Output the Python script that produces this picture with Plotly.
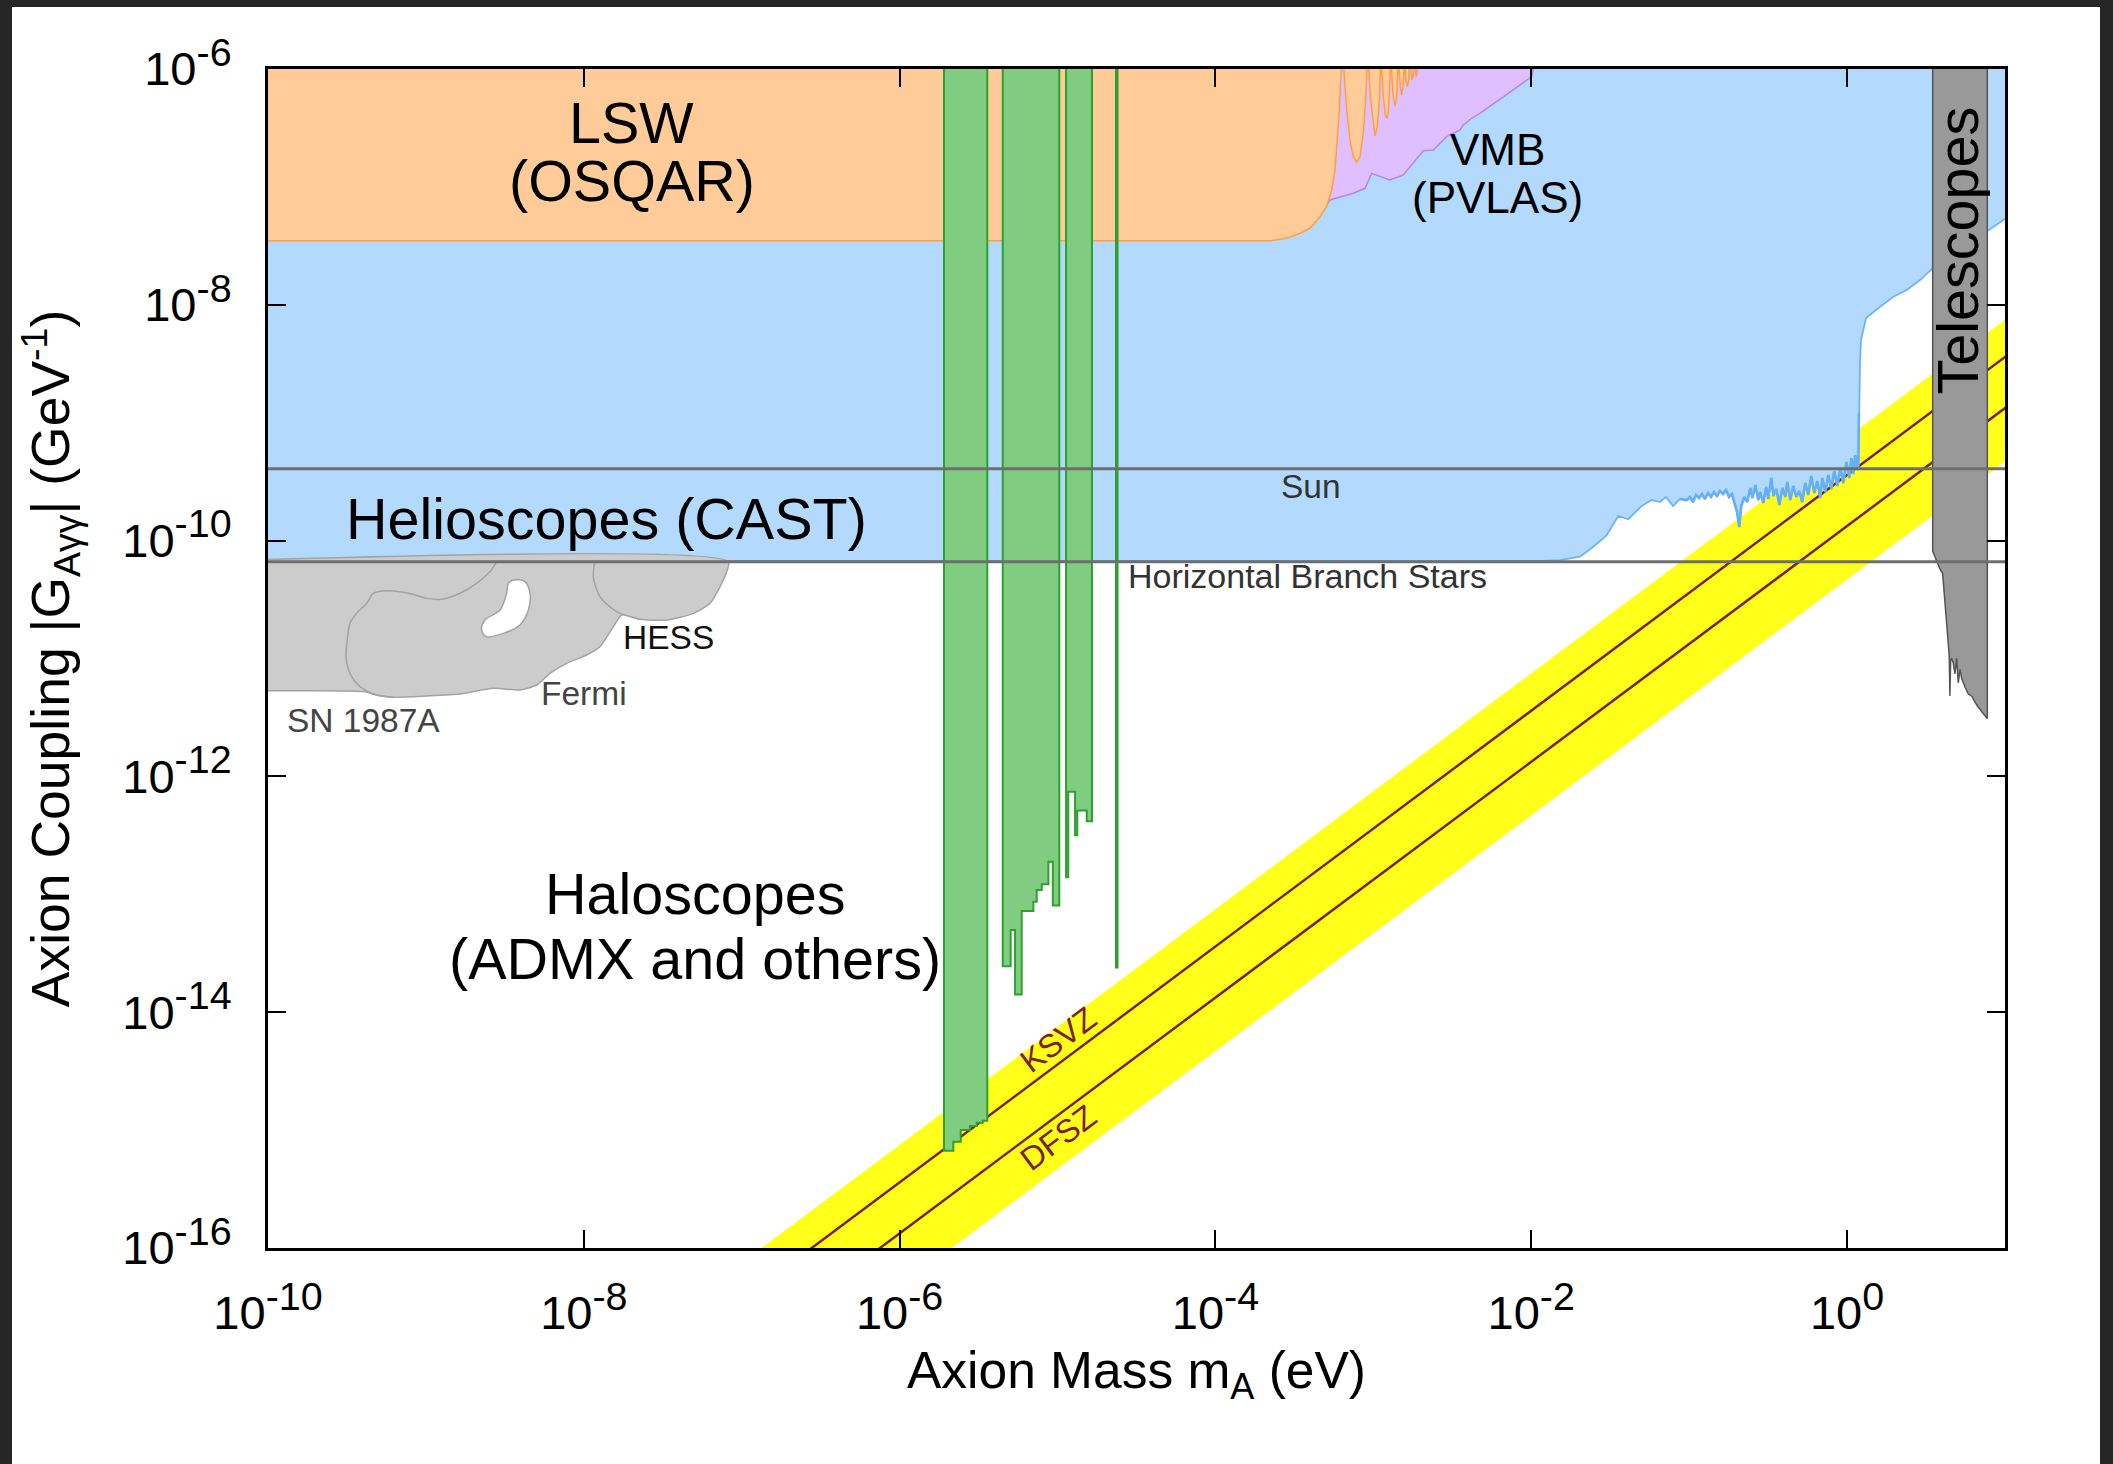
import numpy as np
import plotly.graph_objects as go

FONT = "Liberation Sans, Arial, Helvetica, sans-serif"

# ---------------- data (log10 of axion mass [eV], log10 of coupling [GeV^-1]) -------------
x_tick_exp = [-10, -8, -6, -4, -2, 0]
y_tick_exp = [-16, -14, -12, -10, -8, -6]

# Horizontal Branch Stars and Sun limits
hb_g_log = -10.18
sun_g_log = -9.39

# QCD axion band and model lines
band_m_log = [-7.374, 1.05, 1.05, -6.17]
band_g_log = [-16.5, -8.076, -9.28, -16.5]
ksvz_m_log = [-7.057, 1.05]
ksvz_g_log = [-16.5, -8.393]
dfsz_m_log = [-6.624, 1.05]
dfsz_g_log = [-16.5, -8.826]

# Helioscopes (CAST) lower boundary, left to right
cast_m_log = [-10.5, -1.926, -1.818, -1.691, -1.607, -1.522, -1.449, -1.386, -1.301, -1.238,
              -1.185, -1.147, -1.102, -1.058]
cast_g_log = [-10.173, -10.173, -10.165, -10.137, -10.052, -9.953, -9.791, -9.819, -9.707, -9.656,
              -9.673, -9.630, -9.707, -9.647]
# noisy part of the CAST limit
cast_noise_m_log = [-1.016, -0.995, -0.976, -0.957, -0.938, -0.919, -0.900, -0.881, -0.862, -0.843,
                    -0.824, -0.805, -0.786, -0.767, -0.748, -0.729, -0.710, -0.697, -0.683, -0.670,
                    -0.651, -0.632, -0.613, -0.600, -0.581, -0.562, -0.550, -0.531, -0.512, -0.499,
                    -0.480, -0.467, -0.448, -0.429, -0.410, -0.391, -0.379, -0.360, -0.341, -0.322,
                    -0.303, -0.284, -0.265, -0.246, -0.227, -0.208, -0.189, -0.170, -0.157, -0.138,
                    -0.119, -0.100, -0.081, -0.062, -0.043, -0.024, -0.005, 0.014, 0.027, 0.039,
                    0.052, 0.065, 0.071]
cast_noise_g_log = [-9.656, -9.630, -9.673, -9.613, -9.639, -9.605, -9.647, -9.596, -9.630, -9.588,
                    -9.622, -9.579, -9.605, -9.571, -9.630, -9.605, -9.698, -9.757, -9.885, -9.707,
                    -9.630, -9.673, -9.554, -9.639, -9.528, -9.656, -9.588, -9.681, -9.545, -9.647,
                    -9.469, -9.622, -9.562, -9.698, -9.554, -9.630, -9.503, -9.656, -9.537, -9.630,
                    -9.579, -9.673, -9.512, -9.613, -9.452, -9.596, -9.495, -9.639, -9.469, -9.588,
                    -9.444, -9.562, -9.410, -9.537, -9.384, -9.512, -9.334, -9.469, -9.300, -9.435,
                    -9.274, -9.401, -9.367]
cast_right_m_log = [0.075, 0.082, 0.088, 0.120, 0.209, 0.293, 0.378, 0.462, 0.546, 0.886, 1.0, 1.05]
cast_right_g_log = [-8.918, -8.494, -8.299, -8.112, -8.016, -7.931, -7.874, -7.790, -7.685, -7.374, -7.272, -7.24]

# LSW (OSQAR) lower boundary, left to right (with resonance dips)
lsw_m_log = [-10.5, -3.654, -3.578, -3.528, -3.465, -3.401, -3.338, -3.296, -3.264, -3.243,
             -3.229, -3.216, -3.207, -3.201,
             -3.190, -3.169, -3.148, -3.127, -3.106, -3.085, -3.064, -3.049, -3.039,
             -3.032, -3.017, -3.000, -2.990, -2.975, -2.962, -2.954,
             -2.950, -2.937, -2.924, -2.916, -2.907, -2.899, -2.893,
             -2.888, -2.874, -2.863, -2.852, -2.844,
             -2.840, -2.829, -2.821, -2.812, -2.806,
             -2.802, -2.793, -2.785, -2.776, -2.773,
             -2.768, -2.760, -2.754, -2.747, -2.743,
             -2.738, -2.732, -2.728, -2.724, -2.719, -2.715]
lsw_g_log = [-7.456, -7.456, -7.442, -7.425, -7.394, -7.351, -7.253, -7.168, -7.026, -6.857,
             -6.630, -6.348, -6.093, -5.95,
             -5.95, -6.348, -6.602, -6.744, -6.791, -6.744, -6.545, -6.263, -5.95,
             -5.95, -6.263, -6.489, -6.568, -6.489, -6.263, -5.95,
             -5.95, -6.235, -6.390, -6.418, -6.376, -6.206, -5.95,
             -5.95, -6.235, -6.314, -6.235, -5.95,
             -5.95, -6.150, -6.221, -6.150, -5.95,
             -5.95, -6.108, -6.150, -6.093, -5.95,
             -5.95, -6.065, -6.093, -6.051, -5.95,
             -5.95, -6.051, -6.065, -6.036, -5.95, -5.95]

# VMB (PVLAS) lower boundary
vmb_m_log = [-3.306, -3.275, -3.127, -3.053, -3.011, -2.895, -2.810, -2.684, -2.621, -2.536,
             -2.451, -2.431, -2.377, -2.325, -1.997, -1.987]
vmb_g_log = [-7.170, -7.111, -7.054, -7.012, -6.885, -6.941, -6.899, -6.693, -6.687, -6.574,
             -6.517, -6.475, -6.418, -6.376, -6.065, -6.0]

# Haloscopes (step boundaries)
admx_m_log = [-5.719, -5.719, -5.660, -5.613, -5.554, -5.512, -5.474, -5.445, -5.445]
admx_g_log = [-5.5, -15.175, -15.098, -14.999, -14.965, -14.937, -14.920, -14.920, -5.5]
halo2_m_log = [-5.347, -5.347, -5.297, -5.269, -5.227, -5.153, -5.132, -5.100, -5.058, -5.030, -4.989, -4.989]
halo2_g_log = [-5.5, -13.611, -13.303, -13.849, -13.142, -13.064, -12.963, -12.915, -12.724, -13.094, -13.094, -5.5]
halo3_m_log = [-4.946, -4.946, -4.932, -4.889, -4.875, -4.815, -4.782, -4.782]
halo3_g_log = [-5.5, -12.856, -12.130, -12.499, -12.290, -12.380, -12.380, -5.5]
halo4_m_log = [-4.625, -4.625]
halo4_g_log = [-5.5, -13.629]

# Astrophysical bounds (SN 1987A, Fermi, HESS)
astro_m_log = [-10.5, -7.085, -7.117, -7.201, -7.306, -7.476, -7.644, -7.760, -7.813, -7.898,
               -7.982, -8.109, -8.214, -8.299, -8.404, -8.573, -8.784, -8.995, -9.206, -9.312,
               -9.396, -10.5]
astro_g_log = [-10.18, -10.18, -10.334, -10.532, -10.617, -10.674, -10.668, -10.631, -10.730, -10.900,
               -10.970, -11.041, -11.126, -11.225, -11.267, -11.253, -11.301, -11.318, -11.329, -11.310,
               -11.281, -11.281]
fermi_edge_m_log = [-8.552, -8.594, -8.679, -8.784, -8.900, -8.995, -9.122, -9.249, -9.333, -9.375,
                    -9.439, -9.481, -9.498, -9.506, -9.481, -9.417, -9.312, -9.206]
fermi_edge_g_log = [-10.18, -10.263, -10.362, -10.447, -10.498, -10.490, -10.442, -10.425, -10.447, -10.532,
                    -10.617, -10.702, -10.843, -10.984, -11.126, -11.239, -11.310, -11.329]
hess_edge_m_log = [-7.930, -7.940, -7.898, -7.792, -7.644]
hess_edge_g_log = [-10.18, -10.306, -10.476, -10.603, -10.668]
hole_m_log = [-8.446, -8.373, -8.341, -8.351, -8.404, -8.510, -8.615, -8.647, -8.626, -8.531, -8.489, -8.478, -8.446]
hole_g_log = [-10.334, -10.348, -10.447, -10.589, -10.716, -10.787, -10.815, -10.758, -10.674, -10.589, -10.447, -10.362, -10.334]

# Telescopes
tel_m_log = [0.542, 0.542, 0.588, 0.605, 0.647, 0.651, 0.656, 0.662, 0.672, 0.683, 0.694, 0.704,
             0.715, 0.726, 0.747, 0.768, 0.789, 0.821, 0.853, 0.888, 0.888]
tel_g_log = [-5.5, -10.088, -10.241, -10.279, -10.979, -11.318, -11.013, -10.998, -11.036, -11.131, -10.998, -11.206,
             -11.093, -11.169, -11.244, -11.301, -11.320, -11.395, -11.452, -11.509, -5.5]


def p10(a):
    return np.power(10.0, np.asarray(a, dtype=float))


fig = go.Figure()


def poly(m, g, fill, color, width=1.5, shape="linear", smoothing=1.0):
    d = dict(color=color, width=width, shape=shape)
    if shape == "spline":
        d["smoothing"] = smoothing
    fig.add_trace(go.Scatter(
        x=p10(m), y=p10(g), mode="lines", fill="toself", fillcolor=fill, line=d,
        hoverinfo="skip", showlegend=False))


def line(m, g, color, width, shape="linear", smoothing=1.0):
    d = dict(color=color, width=width, shape=shape)
    if shape == "spline":
        d["smoothing"] = smoothing
    fig.add_trace(go.Scatter(x=p10(m), y=p10(g), mode="lines", line=d,
                             hoverinfo="skip", showlegend=False))


# QCD band
poly(band_m_log, band_g_log, "#FFFF1A", "rgba(0,0,0,0)", 0)
line(ksvz_m_log, ksvz_g_log, "#7B1F1F", 2.5)
line(dfsz_m_log, dfsz_g_log, "#7B1F1F", 2.5)

# Helioscopes
cast_all_m = cast_m_log + cast_noise_m_log + cast_right_m_log
cast_all_g = cast_g_log + cast_noise_g_log + cast_right_g_log
poly([-10.5] + cast_all_m + [1.05], [-5.5] + cast_all_g + [-5.5], "#B3D9FD", "#6DB3FA", 1.8)
line(cast_m_log[-1:] + cast_noise_m_log + cast_right_m_log[:1],
     cast_g_log[-1:] + cast_noise_g_log + cast_right_g_log[:1], "#64AEFA", 2.6)
# VMB
poly(vmb_m_log + [-1.987, -3.306], vmb_g_log + [-5.5, -5.5], "#DFBFFF", "#B983EE", 1.5)
# LSW
poly([-10.5] + lsw_m_log + [-2.715], [-5.5] + lsw_g_log + [-5.5], "#FFCC99", "#FF9F40", 1.5)

# Haloscopes
poly(admx_m_log, admx_g_log, "#80CC80", "#2EA02E", 2, "hv")
poly(halo2_m_log, halo2_g_log, "#80CC80", "#2EA02E", 2, "hv")
poly(halo3_m_log, halo3_g_log, "#80CC80", "#2EA02E", 2, "hv")
line(halo4_m_log, halo4_g_log, "#2EA02E", 3.5)

# Astrophysical bounds
poly(astro_m_log, astro_g_log, "#CCCCCC", "#A3A3A3", 1.5, "spline", 0.6)
line(fermi_edge_m_log, fermi_edge_g_log, "#A3A3A3", 1.5, "spline", 0.8)
line(hess_edge_m_log, hess_edge_g_log, "#A3A3A3", 1.5, "spline", 0.8)
poly(hole_m_log, hole_g_log, "#FFFFFF", "#A3A3A3", 1.5, "spline", 1.0)

# Telescopes
poly(tel_m_log, tel_g_log, "#999999", "#555555", 1.5)

# Sun and HB lines
line([-10.5, 1.05], [sun_g_log, sun_g_log], "#6E6E6E", 3)
line([-10.5, 1.05], [hb_g_log, hb_g_log], "#6E6E6E", 3)


# ---------------- annotations ----------------
def label(text, xm, yg, size, color="black", xanchor="center", angle=0):
    fig.add_annotation(x=xm, y=yg, xref="x", yref="y", text=text, showarrow=False,
                       xanchor=xanchor, yanchor="middle", textangle=angle, borderpad=0,
                       font=dict(family=FONT, size=size, color=color))


BIG = 57.5
label("LSW", -7.695, -6.462, BIG)
label("(OSQAR)", -7.695, -6.950, BIG)
label("Helioscopes (CAST)", -7.856, -9.817, BIG)
label("Haloscopes", -7.296, -13.000, BIG)
label("(ADMX and others)", -7.298, -13.552, BIG)
label("VMB", -2.214, -6.679, 44)
label("(PVLAS)", -2.214, -7.090, 44)
label("Telescopes", 0.705, -7.535, BIG, angle=-90)
label("Sun", -3.398, -9.537, 33.5, "#333333")
label("Horizontal Branch Stars", -4.560, -10.296, 34, "#333333", xanchor="left")
label("SN 1987A", -9.888, -11.522, 33.5, "#444444", xanchor="left")
label("Fermi", -7.999, -11.293, 33.5, "#444444")
label("HESS", -7.461, -10.822, 33.5, "#111111")
label("KSVZ", -4.997, -14.236, 32.5, "#7B1F1F", angle=-36.75)
label("DFSZ", -4.997, -15.067, 32.5, "#7B1F1F", angle=-36.75)


def tick_text(e):
    return '10<sup><span style="font-size:120%">' + str(e) + '</span></sup>'


axis_common = dict(
    type="log", showgrid=False, zeroline=False, showline=True, linewidth=3, linecolor="black",
    mirror="ticks", ticks="inside", ticklen=18, tickwidth=2, tickcolor="black",
    tickfont=dict(family=FONT, size=47, color="black"),
)

fig.update_layout(
    width=2113, height=1464, autosize=False,
    margin=dict(l=268, r=108, t=69, b=216, pad=0),
    paper_bgcolor="#262626", plot_bgcolor="white",
    xaxis=dict(range=[-10, 1], tickvals=p10(x_tick_exp), ticktext=[tick_text(e) for e in x_tick_exp],
               ticklabelstandoff=22,
               title=dict(text="Axion Mass m<sub>A</sub> (eV)", font=dict(family=FONT, size=51.5, color="black"),
                          standoff=14),
               **axis_common),
    yaxis=dict(range=[-16, -6], tickvals=p10(y_tick_exp), ticktext=[tick_text(e) for e in y_tick_exp],
               ticklabelstandoff=24,
               title=dict(text="Axion Coupling |G<sub>A\u03b3\u03b3</sub>| (GeV<sup>-1</sup>)",
                          font=dict(family=FONT, size=53.5, color="black"), standoff=36),
               **axis_common),
    shapes=[dict(type="rect", xref="paper", yref="paper", x0=-0.14738, x1=1.05469, y0=-0.19, y1=1.05259,
                 fillcolor="white", line=dict(width=0), layer="below")],
)

fig.write_html("out.html", config={"displayModeBar": False},
               post_script="document.body.style.margin='0px';document.body.style.overflow='hidden';")
